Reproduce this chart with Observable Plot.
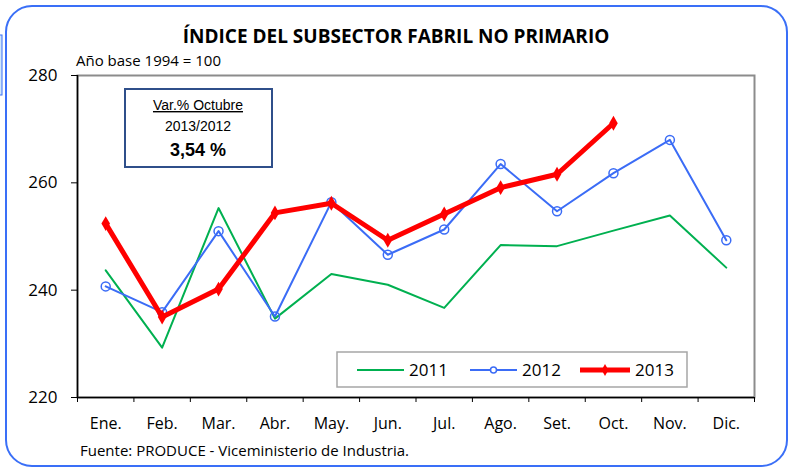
<!DOCTYPE html>
<html>
<head>
<meta charset="utf-8">
<script src="https://cdn.jsdelivr.net/npm/d3@7"></script>
<script src="https://cdn.jsdelivr.net/npm/@observablehq/plot@0.6"></script>
<style>
  html, body { margin: 0; padding: 0; background: white; }
</style>
</head>
<body>
<div id="chart"></div>
<script>
const months = ["Ene.","Feb.","Mar.","Abr.","May.","Jun.","Jul.","Ago.","Set.","Oct.","Nov.","Dic."];
const yTicks = [220, 240, 260, 280];
const seriesNames = ["2011", "2012", "2013"];
const values2011 = [243.7, 229.3, 255.3, 234.7, 243.0, 241.0, 236.7, 248.4, 248.2, 251.1, 253.9, 244.2];
const values2012 = [240.7, 235.9, 251.0, 235.1, 256.4, 246.6, 251.3, 263.5, 254.7, 261.8, 268.0, 249.3];
const values2013 = [252.4, 235.0, 240.2, 254.4, 256.2, 249.3, 254.2, 259.1, 261.6, 271.1];
const titleText = "ÍNDICE DEL SUBSECTOR FABRIL NO PRIMARIO";
const subtitleText = "Año base 1994 = 100";
const sourceText = "Fuente: PRODUCE - Viceministerio de Industria.";
const noteLines = ["Var.% Octubre", "2013/2012", "3,54 %"];

const colors = {"2011": "#00b050", "2012": "#3b6cf6", "2013": "#ff0000"};
const font = "'Open Sans', 'Roboto', sans-serif";
const noteFont = "'Liberation Sans', Arial, sans-serif";

const toRows = (arr) => arr.map((v, i) => ({i, v}));
const d2011 = toRows(values2011), d2012 = toRows(values2012), d2013 = toRows(values2013);

const plot = Plot.plot({
  width: 790,
  height: 470,
  marginLeft: 77,
  marginRight: 36,
  marginTop: 75,
  marginBottom: 73,
  style: {fontFamily: font, background: "white", color: "black"},
  x: {type: "linear", domain: [-0.5, 11.5], axis: null},
  y: {domain: [220, 280], axis: null},
  marks: [
    Plot.frame({stroke: "#8c8c8c", strokeWidth: 2}),
    Plot.ruleX([-0.5], {stroke: "black", strokeWidth: 1.5}),
    Plot.ruleY([220], {stroke: "black", strokeWidth: 1.5}),
    Plot.axisY({ticks: yTicks, tickSize: 6, tickPadding: 14, fontSize: 17, label: null, tickFormat: d => String(d)}),
    Plot.axisX({ticks: d3.range(-0.5, 12, 1), tickSize: 5, label: null, tickFormat: () => ""}),
    Plot.axisX({ticks: d3.range(12), tickSize: 0, tickPadding: 20, fontSize: 16, label: null, tickFormat: i => months[i]}),
    Plot.line(d2011, {x: "i", y: "v", stroke: colors["2011"], strokeWidth: 2}),
    Plot.line(d2012, {x: "i", y: "v", stroke: colors["2012"], strokeWidth: 2}),
    Plot.dot(d2012, {x: "i", y: "v", r: 4.5, stroke: colors["2012"], strokeWidth: 1.5, fill: "none"}),
    Plot.line(d2013, {x: "i", y: "v", stroke: colors["2013"], strokeWidth: 5}),
    Plot.dot(d2013, {x: "i", y: "v", symbol: "diamond", r: 4.5, fill: colors["2013"], stroke: "none"})
  ]
});

document.getElementById("chart").appendChild(plot);
const svg = d3.select(plot);

// outer rounded border
svg.append("rect").attr("x", 6).attr("y", 6).attr("width", 781).attr("height", 460)
  .attr("rx", 26).attr("fill", "none").attr("stroke", "#3a6ff7").attr("stroke-width", 2);
// clipped neighbour at the left edge
svg.append("rect").attr("x", -2).attr("y", 35).attr("width", 4).attr("height", 60)
  .attr("fill", "#cfe6fb").attr("stroke", "#3a6ff7").attr("stroke-width", 1);

// title / subtitle / source
svg.append("text").attr("x", 396).attr("y", 43).attr("text-anchor", "middle")
  .attr("font-family", font).attr("font-weight", "bold").attr("font-size", 19).text(titleText);
svg.append("text").attr("x", 76).attr("y", 66).attr("text-anchor", "start")
  .attr("font-family", font).attr("font-size", 15).text(subtitleText);
svg.append("text").attr("x", 80).attr("y", 456).attr("text-anchor", "start")
  .attr("font-family", font).attr("font-size", 15).text(sourceText);

// note box
svg.append("rect").attr("x", 125).attr("y", 89).attr("width", 147).attr("height", 78)
  .attr("fill", "white").attr("stroke", "#2f4f8a").attr("stroke-width", 2);
svg.append("text").attr("x", 198).attr("y", 110).attr("text-anchor", "middle")
  .attr("font-family", noteFont).attr("font-size", 14)
  .attr("text-decoration", "underline").text(noteLines[0]);
svg.append("text").attr("x", 198).attr("y", 131).attr("text-anchor", "middle")
  .attr("font-family", noteFont).attr("font-size", 14).text(noteLines[1]);
svg.append("text").attr("x", 198).attr("y", 156).attr("text-anchor", "middle")
  .attr("font-family", noteFont).attr("font-weight", "bold")
  .attr("font-size", 18).text(noteLines[2]);

// legend
svg.append("rect").attr("x", 337).attr("y", 352).attr("width", 350).attr("height", 35)
  .attr("fill", "white").attr("stroke", "#a6a6a6").attr("stroke-width", 1.5);
const legendX = [357, 470, 580];
seriesNames.forEach((name, k) => {
  const x0 = legendX[k], y0 = 370;
  const lw = k === 2 ? 50 : 47;
  svg.append("line").attr("x1", x0).attr("x2", x0 + lw).attr("y1", y0).attr("y2", y0)
    .attr("stroke", colors[name]).attr("stroke-width", k === 2 ? 5 : 2);
  if (k === 1) {
    svg.append("circle").attr("cx", x0 + lw / 2).attr("cy", y0).attr("r", 3)
      .attr("fill", "white").attr("stroke", colors[name]).attr("stroke-width", 1.5);
  }
  if (k === 2) {
    svg.append("path").attr("d", d3.symbol(d3.symbolDiamond, 40)())
      .attr("transform", `translate(${x0 + lw / 2},${y0})`).attr("fill", colors[name]);
  }
  svg.append("text").attr("x", x0 + lw + 5).attr("y", y0 + 6).attr("text-anchor", "start")
    .attr("font-family", font).attr("font-size", 17).text(name);
});
</script>
</body>
</html>
